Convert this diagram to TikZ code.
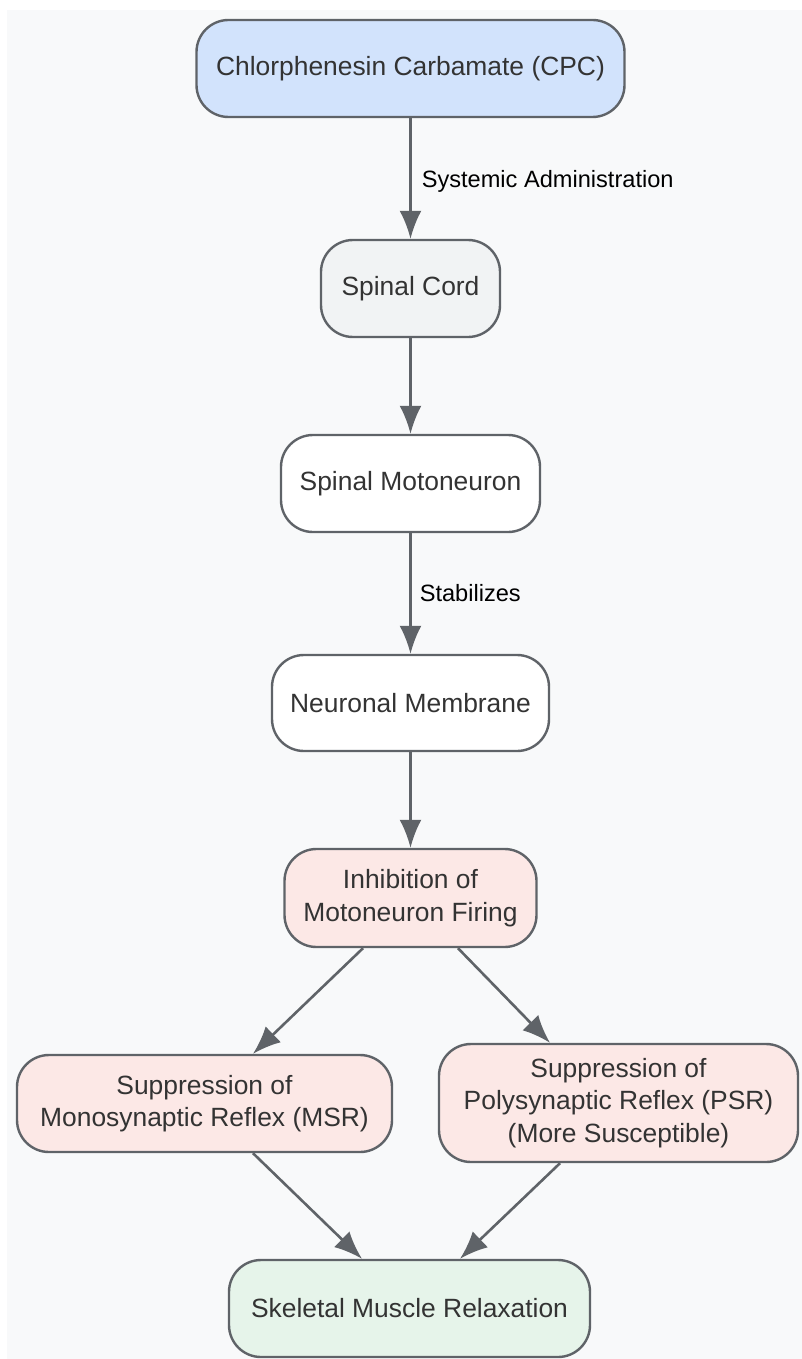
\documentclass[tikz,border=0pt]{standalone}
\usepackage{fontspec}
\setmainfont{Liberation Sans}
\usetikzlibrary{arrows.meta}
\definecolor{bgc}{HTML}{F8F9FA}
\definecolor{edgec}{HTML}{5F6368}
\definecolor{txtc}{HTML}{333333}
\definecolor{blueF}{HTML}{D2E3FC}
\definecolor{grayF}{HTML}{F1F3F4}
\definecolor{redF}{HTML}{FCE8E6}
\definecolor{greenF}{HTML}{E6F4EA}
\tikzset{
  box/.style={draw=edgec, line width=2.4pt, rounded corners=32pt, align=center,
    inner sep=0pt, text=txtc, font=\fontsize{26.4}{32.5}\selectfont},
  arr/.style={draw=edgec, line width=2.6pt, -{Latex[length=28pt,width=22pt]}},
  lbl/.style={text=black, font=\fontsize{23.6}{28}\selectfont, inner sep=0pt}
}
\begin{document}
\begin{tikzpicture}[x=1pt,y=-1pt]
\useasboundingbox (0,0) rectangle (802,1359);
\fill[bgc] (7,10) rectangle (802,1359);
\node[box, fill=blueF, minimum width=428pt, minimum height=97pt] (cpc) at (410.5,68.5) {Chlorphenesin Carbamate (CPC)};
\node[box, fill=grayF, minimum width=179pt, minimum height=97pt] (cord) at (410.5,288.5) {Spinal Cord};
\node[box, fill=white, minimum width=259pt, minimum height=97pt] (moto) at (410.5,483.5) {Spinal Motoneuron};
\node[box, fill=white, minimum width=277pt, minimum height=96pt] (memb) at (410.5,703) {Neuronal Membrane};
\node[box, fill=redF, minimum width=252pt, minimum height=98pt] (inh) at (410.5,898) {Inhibition of\\Motoneuron Firing};
\node[box, fill=redF, minimum width=375pt, minimum height=97pt] (msr) at (204.5,1103.5) {Suppression of\\Monosynaptic Reflex (MSR)};
\node[box, fill=redF, minimum width=359pt, minimum height=118pt] (psr) at (618.5,1103) {Suppression of\\Polysynaptic Reflex (PSR)\\(More Susceptible)};
\node[box, fill=greenF, minimum width=361pt, minimum height=97pt] (skel) at (409.5,1308.5) {Skeletal Muscle Relaxation};

\draw[arr] (cpc.south) -- node[lbl, anchor=west, xshift=10pt, yshift=-3pt, name=l1] {Systemic Administration} (cord.north);
\draw[arr] (cord.south) -- (moto.north);
\draw[arr] (moto.south) -- node[lbl, anchor=west, xshift=8pt, name=l2] {Stabilizes} (memb.north);
\draw[arr] (memb.south) -- (inh.north);
\draw[arr] ([xshift=-47.5pt]inh.south) -- ([xshift=48.5pt]msr.north);
\draw[arr] ([xshift=47.5pt]inh.south) -- ([xshift=-68.5pt]psr.north);
\draw[arr] ([xshift=48.5pt]msr.south) -- ([xshift=-47.5pt]skel.north);
\draw[arr] ([xshift=-58.5pt]psr.south) -- ([xshift=50.5pt]skel.north);
\end{tikzpicture}
\end{document}
